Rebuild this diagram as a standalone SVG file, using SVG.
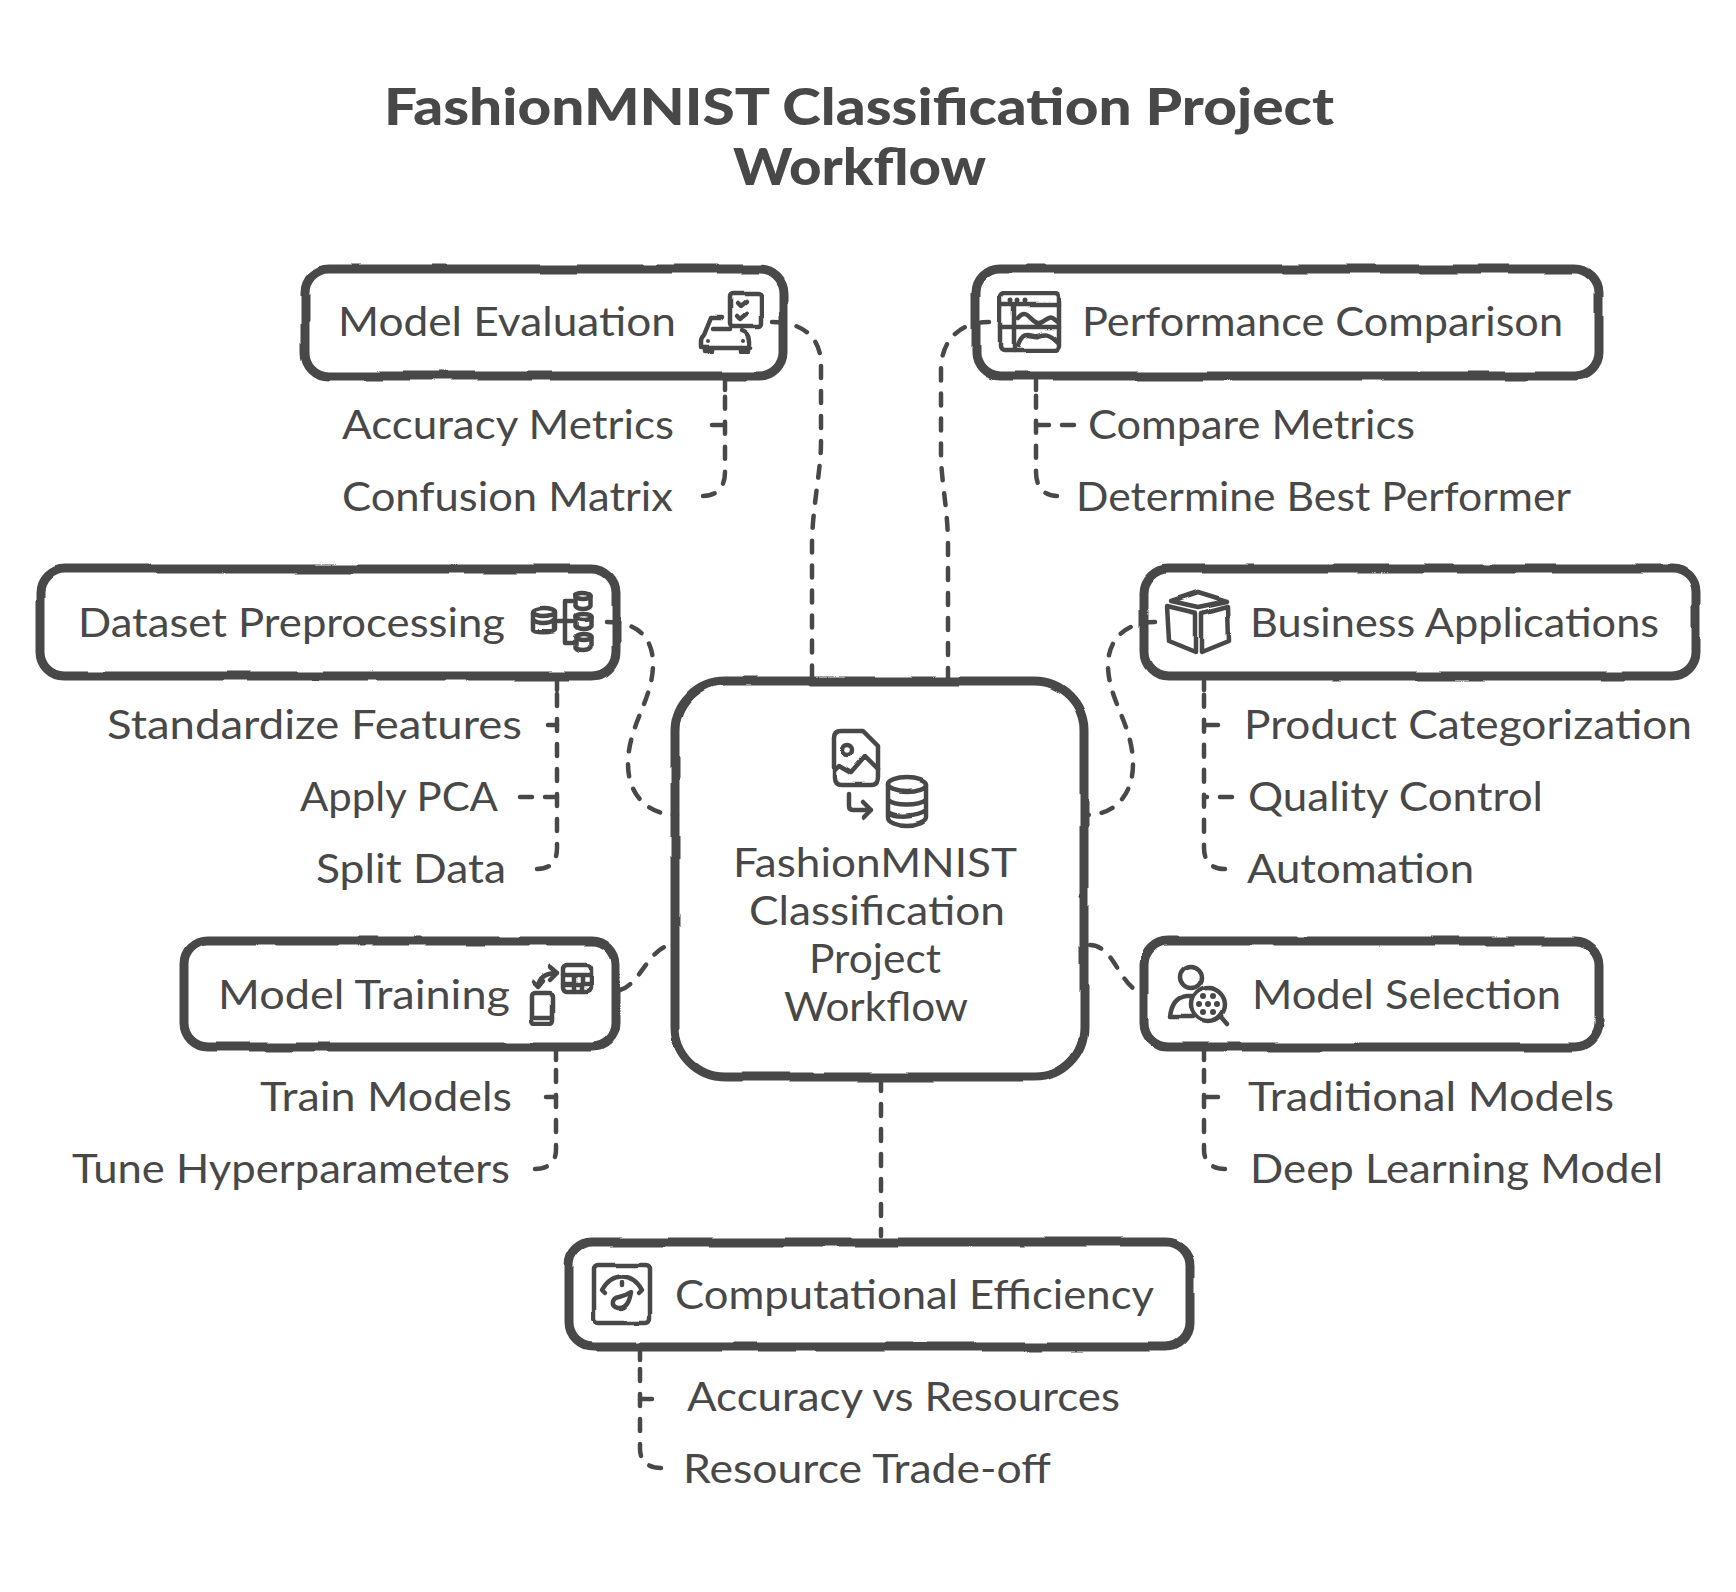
<svg xmlns="http://www.w3.org/2000/svg" width="1736" height="1592" viewBox="0 0 1736 1592">
<style>
text{font-family:"Lato","Noto Sans",sans-serif;font-size:40px;fill:#484848}
.t{font-size:52px;font-weight:900}
.b{fill:#fff;stroke:#484848;stroke-width:9}
.i,.i *{fill:none;stroke:#484848;stroke-width:4.500;stroke-linecap:round;stroke-linejoin:round}
.d{fill:#484848;stroke:none}
#connectors path{fill:none;stroke:#484848;stroke-width:4.500;stroke-linecap:round;stroke-dasharray:12 13}
</style>
<defs><filter id="w" x="-5%" y="-5%" width="110%" height="110%" color-interpolation-filters="sRGB"><feTurbulence type="fractalNoise" baseFrequency="0.015" numOctaves="2" seed="4"/><feDisplacementMap in="SourceGraphic" scale="4" xChannelSelector="R" yChannelSelector="G"/></filter></defs>
<rect width="1736" height="1592" fill="#fff"/>
<g id="title">
<text class="t" x="384" y="125" textLength="950" lengthAdjust="spacingAndGlyphs">FashionMNIST Classification Project</text>
<text class="t" x="733" y="185" textLength="253" lengthAdjust="spacingAndGlyphs">Workflow</text>
</g>
<g id="node-center">
<rect class="b" filter="url(#w)" x="675" y="681" width="409" height="396" rx="50"/>
<g class="i" filter="url(#w)"><path d="M841 731H863L878 746V778Q878 785 871 785H841Q834 785 834 778V738Q834 731 841 731Z"/><circle cx="848" cy="750" r="5"/><path d="M835 770L839 766L851 773L865 757L878 770"/><path d="M848 794V806Q848 810 852 810H871M863 802L871 810L863 818"/><ellipse cx="907" cy="785" rx="19" ry="7"/><path d="M888 785V817C888 821 897 825 907 825S926 821 926 817V785M888 800C895 806 918 806 926 800M888 812C895 818 918 816 926 810"/></g>
<text x="733" y="877" textLength="284" lengthAdjust="spacingAndGlyphs">FashionMNIST</text>
<text x="749" y="925" textLength="256" lengthAdjust="spacingAndGlyphs">Classification</text>
<text x="809" y="973" textLength="132" lengthAdjust="spacingAndGlyphs">Project</text>
<text x="784" y="1021" textLength="184" lengthAdjust="spacingAndGlyphs">Workflow</text>
</g>
<g id="node-model-evaluation">
<rect class="b" filter="url(#w)" x="305" y="269" width="478" height="107" rx="24"/>
<g class="i" filter="url(#w)"><rect x="730" y="293" width="31" height="33" rx="3"/><path d="M737 303L740 306L746 301M737 316L740 319L746 314"/><path d="M722 318H711L704 335M713 329H730M704 335Q701 338 701 341V347H750V341Q750 333 742 330"/><path d="M705 347V351H712V347M741 347V351H748V347"/></g>
<circle class="d" cx="708" cy="341" r="2"/><circle class="d" cx="743" cy="341" r="2"/>
<text x="338" y="336" textLength="338" lengthAdjust="spacingAndGlyphs">Model Evaluation</text>
<text x="342" y="439" textLength="332" lengthAdjust="spacingAndGlyphs">Accuracy Metrics</text>
<text x="342" y="511" textLength="331" lengthAdjust="spacingAndGlyphs">Confusion Matrix</text>
</g>
<g id="node-performance-comparison">
<rect class="b" filter="url(#w)" x="976" y="269" width="623" height="107" rx="24"/>
<g class="i" filter="url(#w)"><rect x="1000" y="294" width="59" height="56" rx="4"/><path d="M1000 305H1059M1014 305V350M1000 327H1059M1018 318C1028 305 1032 328 1042 322S1050 316 1058 322M1018 345C1024 328 1032 338 1038 336S1048 332 1058 342"/></g>
<circle class="d" cx="1010" cy="300" r="2.500"/><circle class="d" cx="1017" cy="300" r="2.500"/><circle class="d" cx="1025" cy="300" r="2.500"/>
<text x="1082" y="336" textLength="481" lengthAdjust="spacingAndGlyphs">Performance Comparison</text>
<text x="1088" y="439" textLength="327" lengthAdjust="spacingAndGlyphs">Compare Metrics</text>
<text x="1076" y="511" textLength="495" lengthAdjust="spacingAndGlyphs">Determine Best Performer</text>
</g>
<g id="node-dataset-preprocessing">
<rect class="b" filter="url(#w)" x="40" y="569" width="576" height="107" rx="24"/>
<g class="i" filter="url(#w)"><ellipse cx="544" cy="613" rx="11" ry="4"/><path d="M533 613V630C533 633 555 633 555 630V613M533 621C538 625 550 625 555 621"/><path d="M572 601H565V643H572M558 622H572"/><ellipse cx="583" cy="596" rx="7.500" ry="3"/><path d="M575.500 596V606C578 610 588 610 590.500 606V596"/><ellipse cx="583" cy="617" rx="7.500" ry="3"/><path d="M575.500 617V627C578 631 588 631 590.500 627V617"/><ellipse cx="583" cy="638" rx="7.500" ry="3"/><path d="M575.500 638V648C578 652 588 652 590.500 648V638"/></g>
<text x="78" y="637" textLength="427" lengthAdjust="spacingAndGlyphs">Dataset Preprocessing</text>
<text x="107" y="739" textLength="415" lengthAdjust="spacingAndGlyphs">Standardize Features</text>
<text x="300" y="811" textLength="198" lengthAdjust="spacingAndGlyphs">Apply PCA</text>
<text x="316" y="883" textLength="190" lengthAdjust="spacingAndGlyphs">Split Data</text>
</g>
<g id="node-business-applications">
<rect class="b" filter="url(#w)" x="1144" y="569" width="552" height="107" rx="24"/>
<g class="i" filter="url(#w)"><path d="M1198 592L1227 601L1198 607L1171 601ZM1167 606L1196 613V652L1169 641ZM1202 613L1228 606L1229 641L1202 652Z"/></g>
<text x="1250" y="637" textLength="409" lengthAdjust="spacingAndGlyphs">Business Applications</text>
<text x="1244" y="739" textLength="448" lengthAdjust="spacingAndGlyphs">Product Categorization</text>
<text x="1248" y="811" textLength="295" lengthAdjust="spacingAndGlyphs">Quality Control</text>
<text x="1247" y="883" textLength="227" lengthAdjust="spacingAndGlyphs">Automation</text>
</g>
<g id="node-model-training">
<rect class="b" filter="url(#w)" x="184" y="941" width="432" height="106" rx="24"/>
<g class="i" filter="url(#w)"><rect x="563" y="965" width="28" height="26" rx="4"/><path d="M563 975H591M563 984H591M574 975V991M582 975V991"/><rect x="532" y="993" width="21" height="30" rx="3"/><path d="M532 1017H553M533 982L538 987L543 981M538 987C539 977 546 973 557 973M550 967L557 973L550 980"/></g>
<text x="218" y="1009" textLength="292" lengthAdjust="spacingAndGlyphs">Model Training</text>
<text x="260" y="1111" textLength="252" lengthAdjust="spacingAndGlyphs">Train Models</text>
<text x="72" y="1183" textLength="438" lengthAdjust="spacingAndGlyphs">Tune Hyperparameters</text>
</g>
<g id="node-model-selection">
<rect class="b" filter="url(#w)" x="1144" y="941" width="455" height="106" rx="24"/>
<g class="i" filter="url(#w)"><circle cx="1190" cy="977" r="11"/><path d="M1192 996H1186Q1172 998 1170 1017H1193"/><circle cx="1208" cy="1004" r="17"/><path d="M1221 1017L1227 1024"/></g>
<g class="d"><circle cx="1208" cy="1004" r="3"/><circle cx="1199" cy="1004" r="3"/><circle cx="1217" cy="1004" r="3"/><circle cx="1203" cy="996" r="3"/><circle cx="1213" cy="996" r="3"/><circle cx="1203" cy="1012" r="3"/><circle cx="1213" cy="1012" r="3"/></g>
<text x="1252" y="1009" textLength="309" lengthAdjust="spacingAndGlyphs">Model Selection</text>
<text x="1248" y="1111" textLength="366" lengthAdjust="spacingAndGlyphs">Traditional Models</text>
<text x="1250" y="1183" textLength="413" lengthAdjust="spacingAndGlyphs">Deep Learning Model</text>
</g>
<g id="node-computational-efficiency">
<rect class="b" filter="url(#w)" x="569" y="1242" width="621" height="105" rx="24"/>
<g class="i" filter="url(#w)"><rect x="594" y="1265" width="56" height="58" rx="4"/><path d="M605 1293L602 1290C612 1272 632 1272 642 1290L639 1293M622 1282V1285M631 1292C630 1298 628 1309 618 1308C610 1306 612 1298 619 1297C623 1296 628 1294 631 1292Z"/></g>
<text x="675" y="1309" textLength="479" lengthAdjust="spacingAndGlyphs">Computational Efficiency</text>
<text x="687" y="1411" textLength="433" lengthAdjust="spacingAndGlyphs">Accuracy vs Resources</text>
<text x="683" y="1483" textLength="368" lengthAdjust="spacingAndGlyphs">Resource Trade-off</text>
</g>
<g id="connectors">
<path d="M772 322C800 322 821 335 821 365V443C821 470 812 510 812 545V678"/>
<path d="M989 322C960 322 941 340 941 370V454C941 480 948 510 948 545V678"/>
<path d="M607 622C640 622 653 640 653 664C653 700 628 725 628 764C628 795 648 815 677 815"/>
<path d="M1155 622C1125 622 1108 640 1108 665C1108 700 1133 725 1133 764C1133 795 1115 815 1086 815"/>
<path d="M620 990C640 985 650 945 673 945"/>
<path d="M1090 945C1115 945 1120 990 1144 993"/>
<path d="M881 1079V1236"/>
<path d="M703 496C716 496 725 488 725 472V392"/>
<path d="M725 380V390"/>
<path d="M712 425H725"/>
<path d="M1057 496C1045 496 1036 488 1036 472V392"/>
<path d="M1036 380V390"/>
<path d="M1074 425H1036"/>
<path d="M537 869C550 869 557 862 557 848V692"/>
<path d="M557 681V690"/>
<path d="M548 725H557"/>
<path d="M520 797H557"/>
<path d="M1225 869C1212 869 1204 862 1204 848V692"/>
<path d="M1204 681V690"/>
<path d="M1218 725H1204"/>
<path d="M1232 797H1204"/>
<path d="M535 1169C548 1169 556 1162 556 1150V1062"/>
<path d="M556 1051V1060"/>
<path d="M546 1097H556"/>
<path d="M1225 1169C1212 1169 1204 1162 1204 1150V1062"/>
<path d="M1204 1051V1060"/>
<path d="M1218 1097H1204"/>
<path d="M661 1468C648 1468 640 1461 640 1449V1362"/>
<path d="M640 1351V1360"/>
<path d="M652 1399H640"/>
</g>
</svg>
